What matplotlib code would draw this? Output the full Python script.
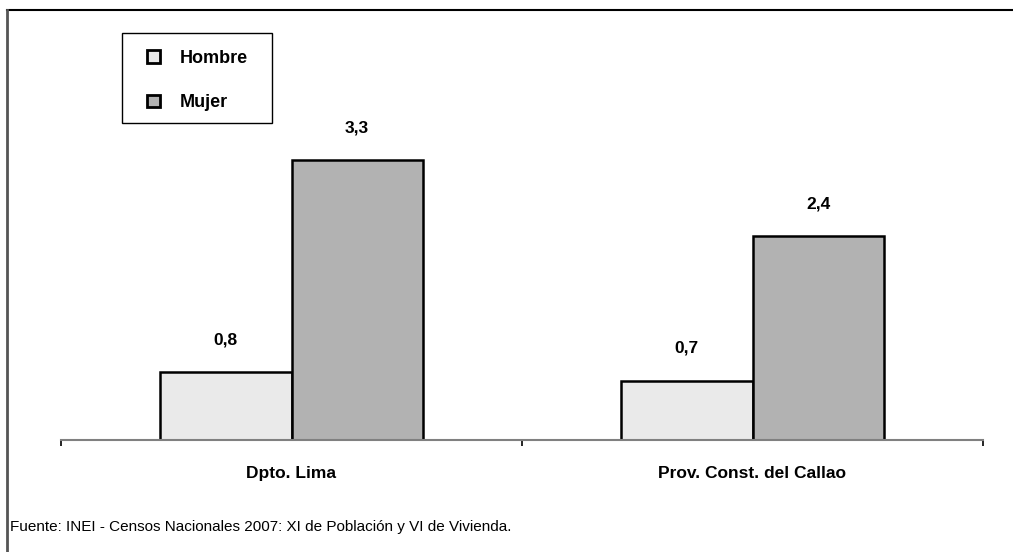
import matplotlib
matplotlib.use("Agg")
import matplotlib.pyplot as plt
from matplotlib.lines import Line2D
from matplotlib.patches import Rectangle
import numpy as np

plt.rcParams['font.family'] = ['Liberation Sans Narrow', 'Liberation Sans', 'DejaVu Sans']

categorias = ["Dpto. Lima", "Prov. Const. del Callao"]
hombre = [0.8, 0.7]
mujer = [3.3, 2.4]
series = ["Hombre", "Mujer"]
fuente = "Fuente: INEI - Censos Nacionales 2007: XI de Población y VI de Vivienda."

W, H = 1013, 552
fig = plt.figure(figsize=(W / 100, H / 100), dpi=100)
ax = fig.add_axes([61 / W, 1 - 440 / H, (983 - 61) / W, (440 - 20) / H])

x = np.arange(len(categorias))
ancho = 0.285
b1 = ax.bar(x - ancho / 2, hombre, ancho, color="#EAEAEA", edgecolor="black", linewidth=1.8, label=series[0])
b2 = ax.bar(x + ancho / 2, mujer, ancho, color="#B2B2B2", edgecolor="black", linewidth=1.8, label=series[1])

for barras, vals in ((b1, hombre), (b2, mujer)):
    for r, v in zip(barras, vals):
        ax.annotate(f"{v:.1f}".replace(".", ","), (r.get_x() + r.get_width() / 2, v),
                    xytext=(0, 18), textcoords="offset points", ha="center", va="bottom",
                    fontsize=12.5, fontweight="bold")

ax.set_xlim(-0.5, 1.5)
ax.set_ylim(0, 420 / 84.8)
ax.set_yticks([])
ax.set_xticks(x)
ax.set_xticklabels(categorias, fontsize=12.5, fontweight="bold")
ax.set_xticks([-0.5, 0.5, 1.5], minor=True)
ax.tick_params(axis="x", which="major", length=0, pad=19)
ax.tick_params(axis="x", which="minor", length=4.5, width=1.2, color="black", direction="out")
for s in ("top", "right", "left"):
    ax.spines[s].set_visible(False)
ax.spines["bottom"].set_color("#808080")
ax.spines["bottom"].set_linewidth(1.5)

# caja de la leyenda
fig.add_artist(Rectangle((122 / W, 1 - 123 / H), 150 / W, 90 / H, transform=fig.transFigure,
                         facecolor="white", edgecolor="black", lw=1.0, zorder=3))
leg = fig.legend(handles=[b1, b2], labels=series, loc="upper left",
                 bbox_to_anchor=(147 / W, 1 - 50 / H), bbox_transform=fig.transFigure,
                 borderaxespad=0, frameon=False, borderpad=0,
                 prop={"size": 13, "weight": "bold"}, handlelength=0.7, handleheight=0.7,
                 handletextpad=1.1, labelspacing=1.52)
leg.set_zorder(4)
for h in leg.legend_handles:
    h.set_linewidth(2.0)

fig.text(10 / W, 1 - 527 / H, fuente, fontsize=11, va="center", ha="left")

fig.add_artist(Line2D([7 / W, 1], [1 - 10 / H, 1 - 10 / H], transform=fig.transFigure, color="black", lw=1.5))
fig.add_artist(Line2D([7 / W, 7 / W], [0, 1 - 10 / H], transform=fig.transFigure, color="#555555", lw=2))

fig.savefig("out.png", dpi=100)
